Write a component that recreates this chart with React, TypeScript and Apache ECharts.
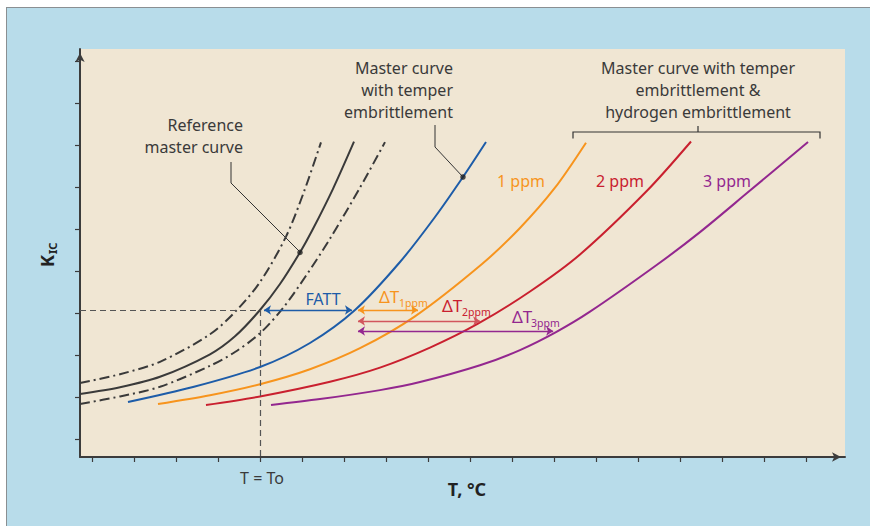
import React, { useEffect, useRef } from "react";
import * as echarts from "echarts";

// Axis (arbitrary units: T in steps of 10 with T0 = 0, K in steps of 10)
const xTicks = [-40, -30, -20, -10, 0, 10, 20, 30, 40, 50, 60, 70, 80, 90, 100, 110, 120, 130];
const yTicks = [0, 10, 20, 30, 40, 50, 60, 70, 80, 90];
const xMin = -180 / 4.2;
const xMax = 585 / 4.2;
const yMin = -18 / 4.2;
const yMax = 390 / 4.2;

const T0 = 0;
const K0 = 30.71;

// Reference master curve scatter band (dash-dot)
const upperBand = [
  [-42.86, 13.33], [-33.33, 15.43], [-23.81, 18.38], [-11.9, 24.93], [-5.71, 30.5],
  [0, 37.36], [6.19, 48.19], [10.48, 58.9], [14.52, 70.64],
];
const referenceCurve = [
  [-42.86, 10.71], [-33.33, 12.33], [-23.81, 14.81], [-11.9, 20.17], [-5.95, 24.45],
  [0, 30.71], [4.76, 36.9], [9.52, 44.43], [12.38, 49.57], [17.38, 59.57], [22.38, 70.79],
];
const lowerBand = [
  [-42.86, 8.33], [-33.33, 10.14], [-23.81, 12.43], [-11.9, 17.43], [-5.95, 20.71], [0, 25.17],
  [5.48, 31.19], [10.95, 38.86], [16.67, 47.71], [23.81, 59.86], [29.76, 70.69],
];
// Master curve with temper embrittlement
const temperCurve = [
  [-31.43, 8.81], [-15.95, 12.38], [0, 17.14], [11.9, 22.86], [22.62, 30.71],
  [33.33, 42.14], [41.67, 52.86], [48.33, 62.38], [53.81, 70.71],
];
// Temper + hydrogen embrittlement
const h1ppm = [
  [-24.29, 8.33], [-11.9, 10.43], [0, 13.05], [11.9, 16.62], [23.81, 21.62],
  [36.9, 29.21], [52.86, 41.67], [61.9, 50.24], [70.24, 59.83], [77.62, 70.55],
];
const h2ppm = [
  [-12.86, 8.1], [0, 10.14], [16.67, 13.64], [28.57, 17.0], [40.48, 21.76],
  [51.9, 27.45], [64.29, 35.12], [76.19, 43.93], [92.14, 59.1], [102.62, 70.83],
];
const h3ppm = [
  [2.62, 8.1], [14.29, 9.5], [28.57, 11.64], [38.1, 13.55], [52.38, 17.55], [61.9, 21.17],
  [70.48, 25.45], [78.57, 30.31], [94.52, 41.48], [104.76, 49.26], [115.95, 58.55], [130.48, 70.74],
];

// Shift arrows: [from T, to T, K level]
const fattArrow = [0.95, 21.9, 30.71];
const dT1Arrow = [23.33, 37.62, 30.71];
const dT2Arrow = [23.33, 52.4, 28.1];
const dT3Arrow = [23.33, 69.8, 25.71];

// Leader-line target points on the curves
const refDot = [9.52, 44.43];
const temperDot = [48.33, 62.38];

const FONT = '"Noto Sans", "Open Sans", sans-serif';
const C_DARK = "#3a3a3a";
const C_BLUE = "#1d5ca8";
const C_ORANGE = "#f7941d";
const C_RED = "#c9202f";
const C_RED_ARROW = "#d2565d";
const C_PURPLE = "#93278f";

function txt(text: string, x: number, y: number, color: string, size: number, align: string, weight = "normal") {
  return {
    type: "text",
    silent: true,
    style: {
      text, x, y, fill: color, fontSize: size, fontFamily: FONT, fontWeight: weight,
      align, textAlign: align, verticalAlign: "middle", textVerticalAlign: "middle",
    },
  };
}

function arrowLine(a: number[], color: string) {
  return {
    type: "line", data: [], silent: true,
    markLine: {
      silent: true, symbol: ["arrow", "arrow"], symbolSize: [7, 7], animation: false,
      label: { show: false },
      lineStyle: { color, width: 1.4, type: "solid" },
      data: [[{ coord: [a[0], a[2]] }, { coord: [a[1], a[2]] }]],
    },
  };
}

function curve(data: number[][], color: string, dash: any = "solid") {
  return {
    type: "line", data, showSymbol: false, smooth: 0.3, silent: true,
    lineStyle: { color, width: 2, type: dash, cap: "butt" },
  };
}

export default function App() {
  const ref = useRef<HTMLDivElement>(null);
  useEffect(() => {
    if (!ref.current) return;
    const chart = echarts.init(ref.current, undefined, { renderer: "svg" });
    const dashDot = [10, 4, 2, 4];
    chart.setOption({
      animation: false,
      grid: { left: 80, right: 25, top: 49, bottom: 69, show: true, backgroundColor: "#f0e6d3", borderWidth: 0 },
      xAxis: {
        type: "value", min: xMin, max: xMax,
        axisLine: { onZero: false, lineStyle: { color: "#3c3c3c", width: 2 }, symbol: ["none", "arrow"], symbolSize: [7, 9], symbolOffset: [0, -4] },
        axisTick: { show: true, customValues: xTicks, length: 5, inside: false, lineStyle: { color: "#3c3c3c", width: 1.2 } },
        axisLabel: { show: false },
        splitLine: { show: false },
      },
      yAxis: {
        type: "value", min: yMin, max: yMax,
        axisLine: { onZero: false, lineStyle: { color: "#3c3c3c", width: 2 }, symbol: ["none", "arrow"], symbolSize: [7, 9], symbolOffset: [0, -4] },
        axisTick: { show: true, customValues: yTicks, length: 5, inside: false, lineStyle: { color: "#3c3c3c", width: 1.2 } },
        axisLabel: { show: false },
        splitLine: { show: false },
      },
      series: [
        {
          type: "line", data: [], silent: true,
          markLine: {
            silent: true, symbol: ["none", "none"], animation: false, label: { show: false },
            lineStyle: { color: "#555", width: 1.2, type: [6, 4] },
            data: [
              [{ coord: [xMin, K0] }, { coord: [T0, K0] }],
              [{ coord: [T0, K0] }, { coord: [T0, yMin] }],
            ],
          },
        },
        curve(upperBand, C_DARK, dashDot),
        curve(referenceCurve, C_DARK),
        curve(lowerBand, C_DARK, dashDot),
        curve(temperCurve, C_BLUE),
        curve(h1ppm, C_ORANGE),
        curve(h2ppm, C_RED),
        curve(h3ppm, C_PURPLE),
        arrowLine(fattArrow, C_BLUE),
        arrowLine(dT1Arrow, C_ORANGE),
        arrowLine(dT2Arrow, C_RED_ARROW),
        arrowLine(dT3Arrow, C_PURPLE),
        {
          type: "scatter", silent: true, symbol: "circle", symbolSize: 5.5, z: 5,
          itemStyle: { color: "#222" },
          data: [refDot, temperDot],
        },
      ],
      graphic: [
        txt("Reference", 243, 125, C_DARK, 16, "right"),
        txt("master curve", 243, 147, C_DARK, 16, "right"),
        { type: "polyline", silent: true, shape: { points: [[231, 162], [231, 183], [300, 252]] }, style: { stroke: "#333", lineWidth: 1, fill: null } },
        txt("Master curve", 453, 68, C_DARK, 16, "right"),
        txt("with temper", 453, 90, C_DARK, 16, "right"),
        txt("embrittlement", 453, 112, C_DARK, 16, "right"),
        { type: "polyline", silent: true, shape: { points: [[435, 125], [435, 147], [463, 177]] }, style: { stroke: "#333", lineWidth: 1, fill: null } },
        txt("Master curve with temper", 698, 68, C_DARK, 16, "center"),
        txt("embrittlement &", 698, 90, C_DARK, 16, "center"),
        txt("hydrogen embrittlement", 698, 112, C_DARK, 16, "center"),
        { type: "polyline", silent: true, shape: { points: [[573, 138.5], [573, 132], [820, 132], [820, 138.5]] }, style: { stroke: "#333", lineWidth: 1.2, fill: null } },
        { type: "line", silent: true, shape: { x1: 698, y1: 132, x2: 698, y2: 126 }, style: { stroke: "#333", lineWidth: 1.2 } },
        txt("1 ppm", 521, 181, C_ORANGE, 16, "center"),
        txt("2 ppm", 620, 181, C_RED, 16, "center"),
        txt("3 ppm", 727, 181, C_PURPLE, 16, "center"),
        txt("FATT", 323, 299, C_BLUE, 16, "center"),
        txt("ΔT", 379, 296, C_ORANGE, 17, "left"),
        txt("1ppm", 399, 303, C_ORANGE, 10.5, "left"),
        txt("ΔT", 442, 305, C_RED, 17, "left"),
        txt("2ppm", 462, 312, C_RED, 10.5, "left"),
        txt("ΔT", 512, 316, C_PURPLE, 17, "left"),
        txt("3ppm", 531, 323, C_PURPLE, 10.5, "left"),
        txt("T = To", 262, 478, C_DARK, 16, "center"),
        txt("T, °C", 467, 489, "#222", 18, "center", "bold"),
        {
          type: "group", x: 47, y: 267, rotation: Math.PI / 2, silent: true,
          children: [
            { type: "text", style: { text: "K", x: 0, y: 0, fill: "#222", fontSize: 18, fontWeight: "bold", fontFamily: FONT, align: "left", textAlign: "left", verticalAlign: "middle", textVerticalAlign: "middle" } },
            { type: "text", style: { text: "IC", x: 13, y: 5, fill: "#222", fontSize: 11, fontWeight: "bold", fontFamily: FONT, align: "left", textAlign: "left", verticalAlign: "middle", textVerticalAlign: "middle" } },
          ],
        },
      ],
    });
    return () => chart.dispose();
  }, []);
  return (
    <div style={{ position: "fixed", left: 0, top: 0, width: 870, height: 526, background: "#ffffff", overflow: "hidden" }}>
      <div style={{ position: "absolute", left: 6, top: 7, width: 880, height: 540, background: "#b8dcea", borderTop: "1.5px solid #8a8f92", borderLeft: "1.5px solid #8a8f92" }} />
      <div ref={ref} style={{ position: "absolute", left: 0, top: 0, width: 870, height: 526 }} />
    </div>
  );
}
